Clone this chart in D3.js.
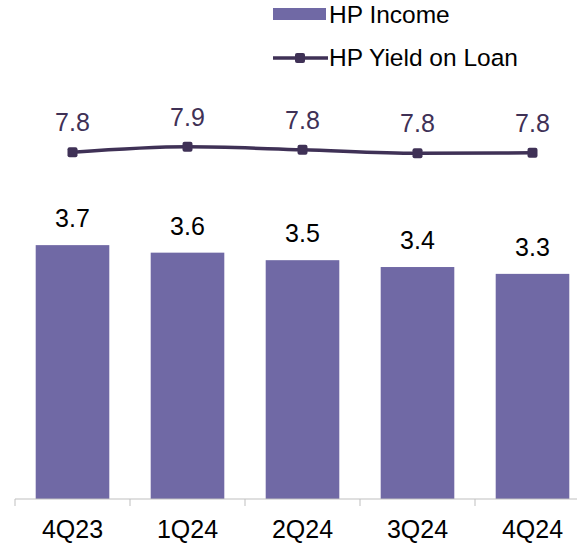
<!DOCTYPE html>
<html>
<head>
<meta charset="utf-8">
<script src="https://cdn.jsdelivr.net/npm/d3@7"></script>
<style>
  body { margin: 0; background: #fff; }
  text { font-family: "Liberation Sans", Arial, sans-serif; }
</style>
</head>
<body>
<div id="chart"></div>
<script>
const quarters = ["4Q23", "1Q24", "2Q24", "3Q24", "4Q24"];
const hpIncome = [3.71, 3.60, 3.49, 3.39, 3.29];
const hpYield = [7.81, 7.92, 7.86, 7.79, 7.80];
const incomeLabels = ["3.7", "3.6", "3.5", "3.4", "3.3"];
const yieldLabels = ["7.8", "7.9", "7.8", "7.8", "7.8"];

const width = 577, height = 545;
const barColor = "#7069a5", lineColor = "#3f3156";

const svg = d3.select("#chart").append("svg")
      .attr("width", width)
      .attr("height", height);

const x = d3.scaleBand()
      .domain(quarters)
      .range([15, 15 + 115 * quarters.length])
      .paddingInner(0.36)
      .paddingOuter(0.18);

const y = d3.scaleLinear()
      .domain([0, 7])
      .range([499, 20]);

// line sits on its own (secondary) scale
const y2 = d3.scaleLinear()
      .domain([7, 9])
      .range([192.8, 92.8]);

// bars
svg.append("g").selectAll("rect")
      .data(quarters)
      .join("rect")
      .attr("x", d => x(d))
      .attr("y", (d, i) => y(hpIncome[i]))
      .attr("width", x.bandwidth())
      .attr("height", (d, i) => y(0) - y(hpIncome[i]))
      .attr("fill", barColor);

svg.append("g").selectAll("text")
      .data(quarters)
      .join("text")
      .attr("x", d => x(d) + x.bandwidth() / 2)
      .attr("y", (d, i) => y(hpIncome[i]) - 18)
      .attr("text-anchor", "middle")
      .attr("font-size", 25)
      .attr("fill", "#000")
      .text((d, i) => incomeLabels[i]);

// x axis
const ax = svg.append("g").attr("transform", "translate(0," + y(0) + ")");
ax.append("line").attr("x1", 15).attr("x2", width).attr("stroke", "#bfbfbf").attr("stroke-width", 1);
ax.selectAll("line.tk")
      .data(d3.range(quarters.length + 1))
      .join("line")
      .attr("class", "tk")
      .attr("x1", i => 15 + i * x.step())
      .attr("x2", i => 15 + i * x.step())
      .attr("y1", 0).attr("y2", 7)
      .attr("stroke", "#bfbfbf");
ax.selectAll("text")
      .data(quarters)
      .join("text")
      .attr("x", d => x(d) + x.bandwidth() / 2)
      .attr("y", 39)
      .attr("text-anchor", "middle")
      .attr("font-size", 25)
      .attr("fill", "#000")
      .text(d => d);

// yield line
const line = d3.line()
      .x((d, i) => x(quarters[i]) + x.bandwidth() / 2)
      .y(d => y2(d))
      .curve(d3.curveMonotoneX);

svg.append("path")
      .datum(hpYield)
      .attr("d", line)
      .attr("fill", "none")
      .attr("stroke", lineColor)
      .attr("stroke-width", 3.5);

svg.append("g").selectAll("rect")
      .data(hpYield)
      .join("rect")
      .attr("x", (d, i) => x(quarters[i]) + x.bandwidth() / 2 - 5)
      .attr("y", d => y2(d) - 5)
      .attr("width", 10).attr("height", 10)
      .attr("rx", 2)
      .attr("fill", lineColor);

svg.append("g").selectAll("text")
      .data(hpYield)
      .join("text")
      .attr("x", (d, i) => x(quarters[i]) + x.bandwidth() / 2)
      .attr("y", d => y2(d) - 21)
      .attr("text-anchor", "middle")
      .attr("font-size", 25)
      .attr("fill", lineColor)
      .text((d, i) => yieldLabels[i]);

// legend
const lg = svg.append("g").attr("transform", "translate(273,0)");
lg.append("rect").attr("x", 0).attr("y", 8).attr("width", 53).attr("height", 12).attr("fill", barColor);
lg.append("text").attr("x", 56).attr("y", 23).attr("font-size", 24.5).attr("fill", "#000").text("HP Income");
lg.append("line").attr("x1", 0).attr("x2", 55).attr("y1", 58).attr("y2", 58)
      .attr("stroke", lineColor).attr("stroke-width", 3.5);
lg.append("rect").attr("x", 22).attr("y", 53).attr("width", 10).attr("height", 10).attr("rx", 2).attr("fill", lineColor);
lg.append("text").attr("x", 56).attr("y", 66).attr("font-size", 24.5).attr("fill", "#000").text("HP Yield on Loan");
</script>
</body>
</html>
